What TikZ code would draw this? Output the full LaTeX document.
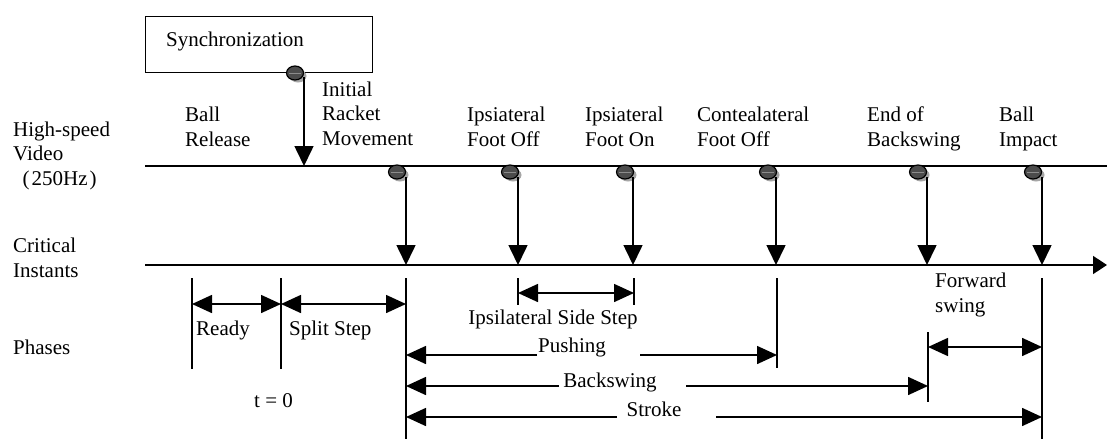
\documentclass[tikz,border=0pt]{standalone}
\usepackage{fontspec}
\setmainfont{Liberation Serif}
\usetikzlibrary{arrows.meta,shapes.geometric}
\newcommand\pinhead[3]{%
  \fill[pinshadow] (#2+3,#3+3) ellipse (8.5 and 6.5);
  \node[pinnode] (#1) at (#2,#3) {};
  \draw[pinmid] (#1.west) -- (#1.east);
}
\begin{document}
\begin{tikzpicture}[x=1pt,y=-1pt,
  lbl/.style={anchor=base west, inner sep=0pt, align=left, font=\fontsize{21}{24.2}\selectfont},
  axis/.style={line width=1.6pt},
  tick/.style={line width=1.6pt},
  drop/.style={line width=1.6pt, -{Triangle[length=20pt,width=19pt]}},
  ph/.style={line width=1.6pt, -{Triangle[length=20pt,width=18pt]}},
  phboth/.style={line width=1.6pt, {Triangle[length=20pt,width=18pt]}-{Triangle[length=20pt,width=18pt]}},
  pinnode/.style={ellipse, draw=black, line width=1.2pt, fill=black!70, minimum width=17pt, minimum height=14pt, inner sep=0pt},
  pinshadow/.style={fill=black!35},
  pinmid/.style={black!45, line width=1pt, shorten <=3pt, shorten >=3pt},
]
\useasboundingbox (0,0) rectangle (1107,439);

% Synchronization box
\node[draw, line width=1pt, minimum width=227pt, minimum height=56pt, inner sep=0pt, anchor=north west] (sync) at (145,16) {};
\node[lbl] (synctxt) at (166,46) {Synchronization};

% left labels (base = baseline of last line)
\node[lbl] (hsv) at (13,185) {High-speed\\Video\\\hspace{0.45em}(\kern2pt 250Hz\kern2pt)};
\node[lbl] (ci) at (13,277) {Critical\\Instants};
\node[lbl] (phs) at (13,354) {Phases};

% top labels
\node[lbl] (br) at (185,146) {Ball\\Release};
\node[lbl] (irm) at (322,145) {Initial\\Racket\\Movement};
\node[lbl] (ifo) at (467,146) {Ipsiateral\\Foot Off};
\node[lbl] (ifn) at (585,146) {Ipsiateral\\Foot On};
\node[lbl] (cfo) at (697,146) {Contealateral\\Foot Off};
\node[lbl] (eob) at (867,146) {End of\\Backswing};
\node[lbl] (bi) at (999,146) {Ball\\Impact};

% axes
\coordinate (hs0) at (145,166);
\coordinate (hs1) at (1107,166);
\coordinate (ci0) at (145,265);
\coordinate (ci1) at (1107,265);
\draw[axis] (hs0) -- (hs1);
\draw[axis, -{Triangle[length=14pt,width=18pt]}] (ci0) -- (ci1);

% pin heads
\pinhead{p0}{295}{73}
\pinhead{p1}{397}{172}
\pinhead{p2}{510}{172}
\pinhead{p3}{625}{172}
\pinhead{p4}{768}{172}
\pinhead{p5}{918}{172}
\pinhead{p6}{1033}{172}

% drop arrows
\coordinate (s0) at (304,77);   \coordinate (e0) at (304,166);
\draw[drop] (s0) -- (e0);
\foreach \i/\x in {1/406,2/518,3/633,4/776,5/927,6/1042}{
  \coordinate (s\i) at (\x,177);
  \coordinate (e\i) at (\x,265);
  \draw[drop] (s\i) -- (e\i);
}

% phase ticks
\coordinate (tr0) at (192,278); \coordinate (tr1) at (192,369);
\coordinate (ts0) at (281,278); \coordinate (ts1) at (281,369);
\coordinate (ti0) at (406,278); \coordinate (ti1) at (406,439);
\coordinate (tf0) at (518,278); \coordinate (tf1) at (518,305);
\coordinate (tn0) at (634,278); \coordinate (tn1) at (634,305);
\coordinate (tc0) at (777,278); \coordinate (tc1) at (777,368);
\coordinate (te0) at (928,332); \coordinate (te1) at (928,402);
\coordinate (tb0) at (1042,278); \coordinate (tb1) at (1042,439);
\foreach \t in {tr,ts,ti,tf,tn,tc,te,tb}{ \draw[tick] (\t0) -- (\t1); }

% Ready / Split Step
\draw[phboth] (192,304) -- (281,304);
\draw[phboth] (281,304) -- (406,304);
\node[lbl] (ready) at (196,335) {Ready};
\node[lbl] (split) at (289,335) {Split Step};
\node[lbl] (t0) at (254,407) {t = 0};

% Ipsilateral side step
\draw[phboth] (518,293) -- (634,293);
\node[lbl, anchor=base] (iss) at (553,324) {Ipsilateral Side Step};

% Pushing
\node[lbl, anchor=base] (push) at (572,352) {Pushing};
\draw[ph] (537,355) -- (406,355);
\draw[ph] (640,355) -- (777,355);

% Backswing
\node[lbl, anchor=base] (bsw) at (610,387) {Backswing};
\draw[ph] (559,386) -- (406,386);
\draw[ph] (686,386) -- (928,386);

% Stroke
\node[lbl, anchor=base] (strk) at (654,416) {Stroke};
\draw[ph] (617,417) -- (406,417);
\draw[ph] (716,417) -- (1042,417);

% Forward swing
\node[lbl] (fsw) at (935,312) {Forward\\swing};
\draw[phboth] (928,347) -- (1042,347);
\end{tikzpicture}
\end{document}
